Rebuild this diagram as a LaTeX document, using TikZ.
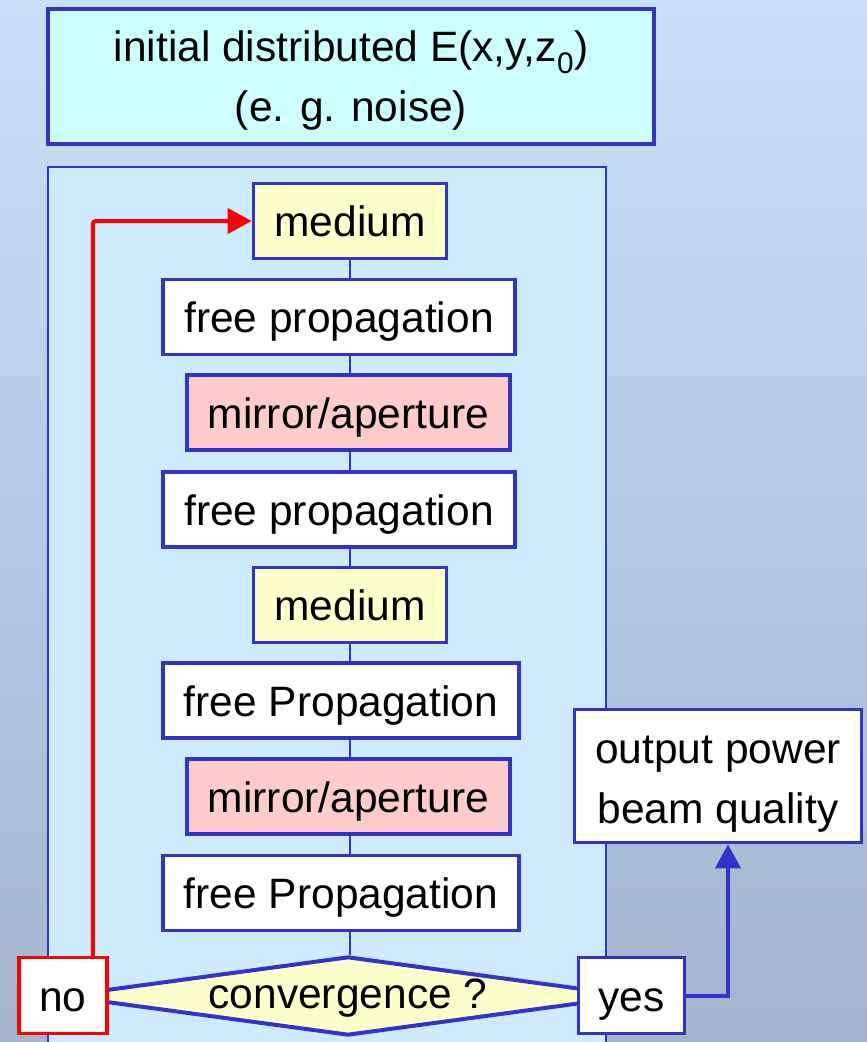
\documentclass[tikz,border=0pt]{standalone}
\usepackage{fontspec}
\setmainfont{Liberation Sans}
\usetikzlibrary{shapes.geometric,arrows.meta}
\definecolor{fcBlue}{HTML}{3333CC}
\definecolor{fcRed}{HTML}{FF0000}
\definecolor{fcCyan}{HTML}{CCFFFF}
\definecolor{fcPanel}{HTML}{CCEBFD}
\definecolor{fcYellow}{HTML}{FFFFCC}
\definecolor{fcPink}{HTML}{FFCCCC}
\definecolor{bgTop}{HTML}{C8E0F8}
\definecolor{bgBot}{HTML}{A2B5CD}

\begin{document}
\begin{tikzpicture}[
  x=1pt, y=-1pt,
  txt/.style={font=\fontsize{42.5}{60}\selectfont, text=black},
  stepbox/.style={txt, draw=fcBlue, line width=3.5pt, inner xsep=21pt, inner ysep=0pt,
    minimum height=75pt, text height=39pt, text depth=8pt},
  freebox/.style={stepbox, fill=white},
  mediumbox/.style={stepbox, fill=fcYellow},
  mirrorbox/.style={stepbox, fill=fcPink},
  infobox/.style={txt, draw=fcBlue, align=center, inner sep=0pt, text depth=10pt},
  decision/.style={diamond, draw=fcBlue, fill=fcYellow, line width=4pt,
    minimum width=572pt, minimum height=79pt, inner sep=0pt},
  answer/.style={stepbox, fill=white, inner xsep=0pt, minimum height=76pt},
  link/.style={draw=fcBlue, line width=2pt},
  loopback/.style={draw=fcRed, line width=4pt, rounded corners=3pt,
    -{Triangle[length=24pt,width=25pt]}},
  yesarrow/.style={draw=fcBlue, line width=4pt,
    -{Triangle[length=24pt,width=25pt]}},
]
\useasboundingbox (0,0) rectangle (867,1042);
\shade[top color=bgTop, bottom color=bgBot] (0,0) rectangle (867,1042);

% ---- start field ---------------------------------------------------------
\node[infobox, fill=fcCyan, line width=4.5pt, minimum width=606pt, minimum height=135pt,
  text height=99pt]
  (init) at (351,76.5) {initial distributed E(x,y,z\textsubscript{0})\\(e. g. noise)};

% ---- round trip panel ----------------------------------------------------
\draw[fcBlue, line width=1.5pt, fill=fcPanel] (48,167) rectangle (606,1050);
\coordinate (spine) at (350,0);

\node[mediumbox] (m1) at (350,221)   {medium};
\node[freebox]   (f1) at (339,317)   {free propagation};
\node[mirrorbox] (a1) at (348.5,412.5) {mirror/aperture};
\node[freebox]   (f2) at (339,509.5) {free propagation};
\node[mediumbox] (m2) at (350,605)   {medium};
\node[freebox]   (f3) at (341,700.5) {free Propagation};
\node[mirrorbox] (a2) at (348.5,796.5) {mirror/aperture};
\node[freebox]   (f4) at (341,893)   {free Propagation};

\node[decision, label={[txt, yshift=-2pt]center:convergence ?}] (conv) at (348,996) {};

\foreach \a/\b in {m1/f1, f1/a1, a1/f2, f2/m2, m2/f3, f3/a2, a2/f4, f4/conv}
  \draw[link] (spine |- \a.south) -- (spine |- \b.north);

% ---- answers -------------------------------------------------------------
\node[answer, draw=fcRed, minimum width=88pt]  (no)  at (63,995.5)   {no};
\node[answer, minimum width=106pt]             (yes) at (631.5,995.5) {yes};

\node[infobox, fill=white, line width=3.5pt, minimum width=287pt, minimum height=133pt,
  text height=104pt]
  (out) at (718,776) {output power\\beam quality};

\draw[loopback] (no.north east) ++(-16,0) |- (m1.west);
\draw[yesarrow] (yes.east) -| ([xshift=10pt]out.south);
\end{tikzpicture}
\end{document}
